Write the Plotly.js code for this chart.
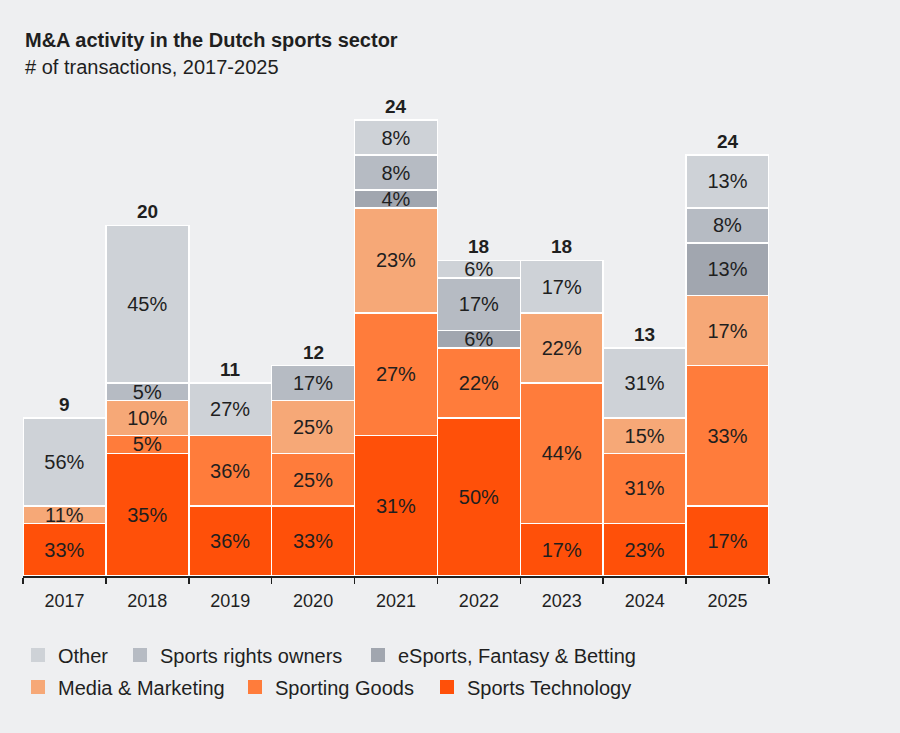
<!DOCTYPE html>
<html>
<head>
<meta charset="utf-8">
<script src="https://cdn.plot.ly/plotly-3.0.1.min.js"></script>
<style>
  html, body { margin: 0; padding: 0; background: #EEEFF1; }
  #chart { width: 900px; height: 733px; }
</style>
</head>
<body>
<div id="chart"></div>
<script>
// Number of M&A transactions per year, by segment
const years = ['2017', '2018', '2019', '2020', '2021', '2022', '2023', '2024', '2025'];
const sportsTechnology   = [3, 7, 4, 4, 8, 9, 3, 3, 4];
const sportingGoods      = [0, 1, 4, 3, 7, 4, 8, 4, 8];
const mediaMarketing     = [1, 2, 0, 3, 6, 0, 4, 2, 4];
const esportsBetting     = [0, 0, 0, 0, 1, 1, 0, 0, 3];
const sportsRightsOwners = [0, 1, 0, 2, 2, 3, 0, 0, 2];
const other              = [5, 9, 3, 0, 2, 1, 3, 4, 3];
// Totals as printed above each column
const reportedTotals     = [9, 20, 11, 12, 24, 18, 18, 13, 24];

// Segments from the bottom of the stack upwards
const segments = [
  { name: 'Sports Technology',              values: sportsTechnology,   color: '#FF5009', legend: 'legend6' },
  { name: 'Sporting Goods',                 values: sportingGoods,      color: '#FF7C3B', legend: 'legend5' },
  { name: 'Media &amp; Marketing',          values: mediaMarketing,     color: '#F6A877', legend: 'legend4' },
  { name: 'eSports, Fantasy &amp; Betting', values: esportsBetting,     color: '#A1A6AF', legend: 'legend3' },
  { name: 'Sports rights owners',           values: sportsRightsOwners, color: '#B6BBC3', legend: 'legend2' },
  { name: 'Other',                          values: other,              color: '#CED2D7', legend: 'legend' }
];

const stackTotals = years.map((_, i) => segments.reduce((s, seg) => s + seg.values[i], 0));

const FONT = 'Liberation Sans, Arial, Helvetica, sans-serif';
const INK = '#1F1F1F';

const traces = segments.map(seg => ({
  type: 'bar',
  name: seg.name,
  x: years,
  y: seg.values,
  text: seg.values.map((v, i) => (v > 0 ? Math.round(v / stackTotals[i] * 100) + '%' : '')),
  textposition: 'inside',
  insidetextanchor: 'middle',
  textangle: 0,
  constraintext: 'none',
  textfont: { family: FONT, size: 20, color: INK },
  marker: { color: seg.color, line: { color: '#FFFFFF', width: 1.5 } },
  hoverinfo: 'x+y+name',
  showlegend: false
}));

// Legend swatches: a square marker per segment, each placed in its own legend box
segments.forEach(seg => {
  traces.push({
    type: 'scatter',
    mode: 'markers',
    name: seg.name,
    x: years,
    y: years.map(() => null),
    marker: { symbol: 'square', size: 14, color: seg.color },
    legend: seg.legend,
    showlegend: true,
    hoverinfo: 'skip'
  });
});

// Plot area geometry (pixels) used to place legends and titles in paper coordinates
const ml = 23, mr = 131, mt = 85, mb = 157;
const pw = 900 - ml - mr, ph = 733 - mt - mb;
const px = x => (x - ml) / pw;
const py = y => (733 - mb - y) / ph;

function legendAt(x, y) {
  return {
    orientation: 'h',
    x: px(x), y: py(y),
    xanchor: 'left', yanchor: 'middle',
    bgcolor: 'rgba(0,0,0,0)',
    borderwidth: 0,
    itemwidth: 30,
    font: { family: FONT, size: 20, color: INK },
    itemclick: false, itemdoubleclick: false
  };
}

const annotations = [
  {
    xref: 'paper', yref: 'paper', x: px(23), y: py(40),
    xanchor: 'left', yanchor: 'middle', showarrow: false,
    text: '<b>M&amp;A activity in the Dutch sports sector</b>',
    font: { family: FONT, size: 20, color: INK }
  },
  {
    xref: 'paper', yref: 'paper', x: px(23), y: py(67),
    xanchor: 'left', yanchor: 'middle', showarrow: false,
    text: '# of transactions, 2017-2025',
    font: { family: FONT, size: 20, color: INK }
  }
];
// Column totals sit on top of each stack (category axes take the category index)
years.forEach((yr, i) => {
  annotations.push({
    x: i, y: stackTotals[i], xref: 'x', yref: 'y',
    yanchor: 'bottom', yshift: 1, showarrow: false,
    text: '<b>' + reportedTotals[i] + '</b>',
    font: { family: FONT, size: 19, color: INK }
  });
});

const layout = {
  width: 900, height: 733,
  paper_bgcolor: '#EEEFF1',
  plot_bgcolor: '#EEEFF1',
  margin: { l: ml, r: mr, t: mt, b: mb },
  barmode: 'stack',
  bargap: 0,
  showlegend: true,
  xaxis: {
    type: 'category',
    categoryorder: 'array', categoryarray: years,
    range: [-0.5, years.length - 0.5],
    showline: true, linecolor: '#1F1F1F', linewidth: 1.5,
    ticks: 'outside', tickson: 'boundaries', ticklen: 6, tickwidth: 1.5, tickcolor: '#1F1F1F',
    ticklabelstandoff: 8,
    tickangle: 0,
    tickfont: { family: FONT, size: 18, color: INK },
    showgrid: false, zeroline: false, fixedrange: true
  },
  yaxis: {
    range: [0, 28], visible: false, showgrid: false, zeroline: false, fixedrange: true
  },
  legend: legendAt(18, 655),
  legend2: legendAt(120, 655),
  legend3: legendAt(358, 655),
  legend4: legendAt(18, 687),
  legend5: legendAt(235, 687),
  legend6: legendAt(427, 687),
  annotations: annotations
};

Plotly.newPlot('chart', traces, layout, { displayModeBar: false, staticPlot: true });
</script>
</body>
</html>
